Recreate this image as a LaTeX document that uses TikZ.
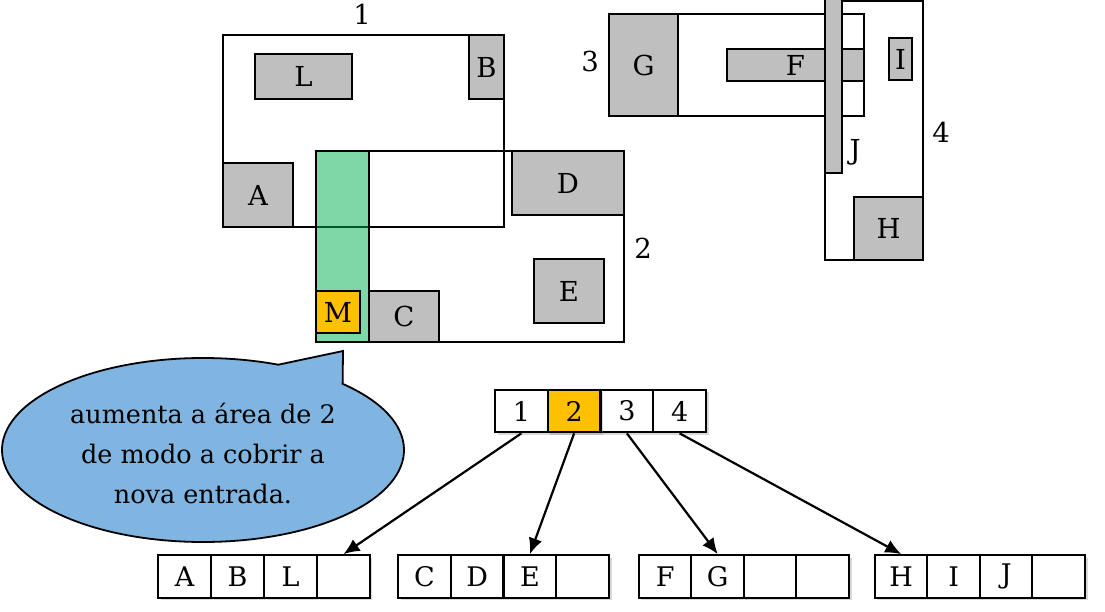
\documentclass[tikz,border=0pt]{standalone}
\usepackage{fontspec}
\setmainfont{DejaVu Serif}
\usetikzlibrary{arrows.meta,shadows}
\definecolor{boxgray}{HTML}{BFBFBF}
\definecolor{hiorange}{HTML}{FFC000}
\definecolor{newgreen}{HTML}{00B050}
\definecolor{callblue}{HTML}{7FB5E0}
\begin{document}
\begin{tikzpicture}[x=1pt,y=1pt,
  region/.style={draw, line width=2pt},
  gbox/.style={draw, fill=boxgray, line width=2pt, inner sep=0pt, font=\fontsize{27.5}{30}\selectfont},
  lbl/.style={inner sep=0pt, font=\fontsize{27.5}{30}\selectfont},
  cell/.style={draw, fill=white, line width=2.2pt, inner sep=0pt,
    minimum width=52.75pt, minimum height=42.5pt, font=\fontsize{27}{30}\selectfont,
    drop shadow={shadow xshift=2.5pt, shadow yshift=-2.5pt, opacity=0.3}},
  arr/.style={line width=2.2pt, -{Latex[length=16pt,width=14pt]}}
]
\useasboundingbox (0,0) rectangle (1105,-612);

% ---- region 1 ----
\draw[region] (223,-35) rectangle (504,-227);
\node[gbox, minimum width=97pt, minimum height=45pt] (L) at (303.5,-76.5) {L};
\node[gbox, minimum width=35pt, minimum height=64pt] (B) at (486.5,-67) {B};
\node[gbox, minimum width=70pt, minimum height=64pt] (A) at (258,-195) {A};
\node[lbl] (n1) at (362,-14) {1};

% ---- region 2 ----
\fill[newgreen, fill opacity=0.5] (316,-151) rectangle (369,-342);
\draw[region] (316,-151) rectangle (624,-342);
\draw[region] (316,-151) rectangle (369,-342);
\node[gbox, fill=hiorange, minimum width=44pt, minimum height=42pt] (M) at (338,-312) {M};
\node[gbox, minimum width=70pt, minimum height=51pt] (C) at (404,-316.5) {C};
\node[gbox, minimum width=112pt, minimum height=64pt] (D) at (568,-183) {D};
\node[gbox, minimum width=70pt, minimum height=64pt] (E) at (569,-291) {E};
\node[lbl] (n2) at (643,-248) {2};

% ---- region 3 ----
\draw[region] (609,-14) rectangle (864,-116);
\node[gbox, minimum width=69pt, minimum height=102pt] (G) at (643.5,-65) {G};
\node[gbox, minimum width=137pt, minimum height=32pt] (F) at (795.5,-65) {F};
\node[lbl] (n3) at (590,-61) {3};

% ---- region 4 ----
\draw[region] (825,-1) rectangle (923,-260);
\node[gbox, minimum width=17pt, minimum height=174pt] (Jbox) at (833.5,-86) {};
\node[lbl] (Jl) at (855,-152) {J};
\node[gbox, minimum width=23pt, minimum height=42pt] (I) at (900.5,-59) {I};
\node[gbox, minimum width=69pt, minimum height=63pt] (H) at (888.5,-228.5) {H};
\node[lbl] (n4) at (941,-132) {4};

% ---- callout ----
\draw[fill=callblue, line width=1.8pt]
  (342.63,-383.82) arc[start angle=46, end angle=-292, x radius=201, y radius=92]
  -- (343,-351) -- cycle;
\node[align=center, inner sep=0pt, font=\fontsize{25.5}{40}\selectfont] (note) at (203,-453)
  {aumenta a área de 2\\de modo a cobrir a\\nova entrada.};

% ---- tree ----
\foreach \t [count=\i] in {1,2,3,4}
  \node[cell] (r\i) at ({495+26.375+52.75*(\i-1)},-411) {\t};
\node[cell, fill=hiorange] at (r2) {2};

\foreach \t [count=\i] in {A,B,L,{}}
  \node[cell] (a\i) at ({158+26.5+53*(\i-1)},-576.5) {\t};
\foreach \t [count=\i] in {C,D,E,{}}
  \node[cell] (b\i) at ({398+26.375+52.75*(\i-1)},-576.5) {\t};
\foreach \t [count=\i] in {F,G,{},{}}
  \node[cell] (c\i) at ({639+26.25+52.5*(\i-1)},-576.5) {\t};
\foreach \t [count=\i] in {H,I,J,{}}
  \node[cell] (d\i) at ({875+26.25+52.5*(\i-1)},-576.5) {\t};

\draw[arr] (r1.south) -- (a4.north);
\draw[arr] (r2.south) -- (b3.north);
\draw[arr] (r3.south) -- (c2.north);
\draw[arr] (r4.south) -- (d1.north);
\end{tikzpicture}
\end{document}
